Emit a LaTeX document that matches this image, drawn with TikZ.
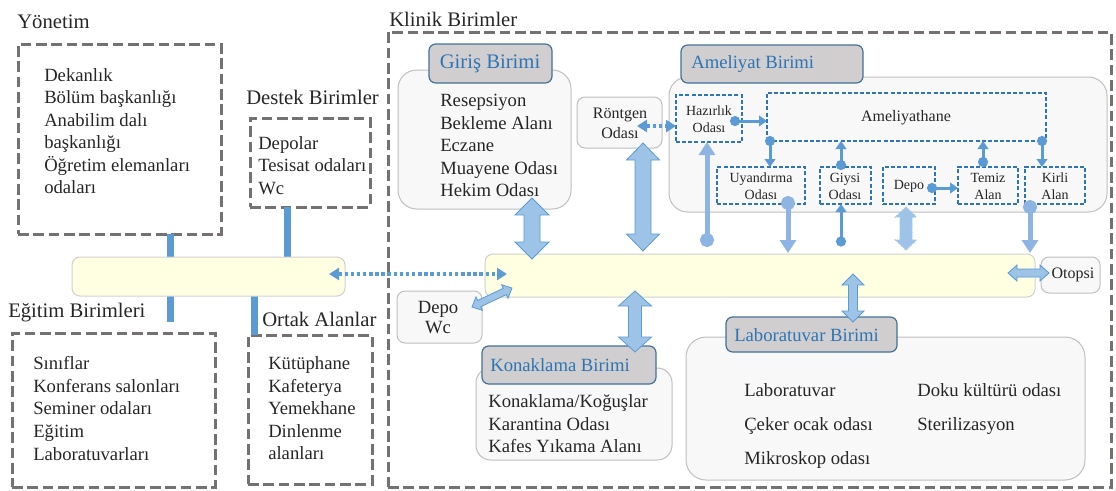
\documentclass[tikz,border=0pt]{standalone}
\usepackage{fontspec}
\setmainfont{Liberation Serif}
\usetikzlibrary{arrows.meta,fit}
\definecolor{dashgray}{HTML}{767171}
\definecolor{barblue}{HTML}{5B9BD5}
\definecolor{fatfill}{HTML}{9DC3E6}
\definecolor{fatline}{HTML}{5B9BD5}
\definecolor{lightarr}{HTML}{8DB4E2}
\definecolor{hdrfill}{HTML}{D0CECE}
\definecolor{hdrline}{HTML}{41719C}
\definecolor{hdrtext}{HTML}{2E75B6}
\definecolor{boxfill}{HTML}{F8F8F8}
\definecolor{boxline}{HTML}{BFBFBF}
\definecolor{corrfill}{HTML}{FFFFE1}
\definecolor{corrline}{HTML}{D0D0D0}
\definecolor{roomline}{HTML}{2E75B6}
\definecolor{txt}{HTML}{262626}
\makeatletter
\newcommand\fatarrow[6][]{%
  \pgfpointanchor{#2}{center}\edef\fa@xa{\the\pgf@x}\edef\fa@ya{\the\pgf@y}%
  \pgfpointanchor{#3}{center}\edef\fa@xb{\the\pgf@x}\edef\fa@yb{\the\pgf@y}%
  \pgfmathsetmacro\fa@ang{atan2(\fa@yb-\fa@ya,\fa@xb-\fa@xa)}%
  \pgfmathsetmacro\fa@len{veclen(\fa@xb-\fa@xa,\fa@yb-\fa@ya)}%
  \pgfmathsetmacro\fa@s{0.75*#4}%
  \pgfmathsetmacro\fa@h{0.75*#5}%
  \pgfmathsetmacro\fa@k{0.75*#6}%
  \pgfmathsetmacro\fa@m{\fa@len-\fa@k}%
  \filldraw[#1,shift={(\fa@xa,\fa@ya)},rotate=\fa@ang]
    (0pt,0pt) -- (\fa@k pt,\fa@h pt) -- (\fa@k pt,\fa@s pt) -- (\fa@m pt,\fa@s pt)
    -- (\fa@m pt,\fa@h pt) -- (\fa@len pt,0pt) -- (\fa@m pt,-\fa@h pt) -- (\fa@m pt,-\fa@s pt)
    -- (\fa@k pt,-\fa@s pt) -- (\fa@k pt,-\fa@h pt) -- cycle;
}
\makeatother
\tikzset{
  dashbox/.style={draw=dashgray, line width=2.25pt, dash pattern=on 8pt off 3.5pt, inner sep=0pt},
  roundbox/.style={draw=boxline, fill=boxfill, rounded corners=#1, line width=0.75pt, inner sep=0pt},
  hdr/.style={draw=hdrline, fill=hdrfill, rounded corners=5pt, line width=0.9pt, inner sep=0pt},
  room/.style={draw=roomline, dash pattern=on 3pt off 1.6pt, line width=1.1pt, inner sep=0pt},
  corr/.style={draw=corrline, fill=corrfill, rounded corners=6pt, line width=0.75pt, inner sep=0pt},
  bar/.style={draw=barblue, line width=5.25pt},
  ttl/.style={font=\fontsize{15.5}{18}\selectfont, text=txt, anchor=west, inner sep=0pt},
  lst/.style={font=\fontsize{14}{16.9}\selectfont, text=txt, anchor=west, align=left, inner sep=0pt},
  sm/.style={font=\fontsize{10.5}{12.75}\selectfont, text=txt, align=center, inner sep=0pt},
  mid/.style={font=\fontsize{12}{14.5}\selectfont, text=txt, align=center, inner sep=0pt},
  hdrtxt/.style={font=\fontsize{14}{16}\selectfont, text=hdrtext, anchor=west, inner sep=0pt},
  fatstyle/.style={fill=fatfill, draw=fatline, line width=0.6pt},
  faintfat/.style={fill=fatfill, draw=fatline!55, line width=0.9pt, dash pattern=on 0.8pt off 0.8pt},
  dotarr/.style={draw=barblue, line width=3pt, dash pattern=on 2.6pt off 2pt,
     {Triangle[length=7.5pt,width=9pt]}-{Triangle[length=7.5pt,width=9pt]}},
  smarr/.style={draw=barblue, line width=2.25pt,
     {Circle[length=7.5pt]}-{Triangle[length=6pt,width=8pt]}},
  bigarr/.style={draw=lightarr, line width=3.75pt,
     {Circle[length=10.5pt]}-{Triangle[length=9.75pt,width=12pt]}},
}
\begin{document}
\begin{tikzpicture}[x=0.75pt,y=-0.75pt]
\useasboundingbox (0,0) rectangle (1116,490);

% ---------- left groups ----------
\node[dashbox, fit={(18,44)(221,234)}] (yon) {};
\node[dashbox, fit={(250,118)(370,207)}] (des) {};
\node[dashbox, fit={(12,333)(215,487)}] (egi) {};
\node[dashbox, fit={(248,335)(372,484)}] (ort) {};
\node[dashbox, fit={(388,32)(1111,487)}] (kli) {};

\node[ttl] (yonT) at (17,22) {Yönetim};
\node[ttl] (desT) at (246,97) {Destek Birimler};
\node[ttl] (egiT) at (8,313) {Eğitim Birimleri};
\node[ttl] (ortT) at (262,319) {Ortak Alanlar};
\node[ttl] (kliT) at (389,19) {Klinik Birimler};

\node[lst] (yonL) at (44,131) {Dekanlık\\Bölüm başkanlığı\\Anabilim dalı\\başkanlığı\\Öğretim elemanları\\odaları};
\node[lst] (desL) at (258,165.5) {Depolar\\Tesisat odaları\\Wc};
\node[lst] (egiL) at (33,408.5) {Sınıflar\\Konferans salonları\\Seminer odaları\\Eğitim\\Laboratuvarları};
\node[lst] (ortL) at (268,408.5) {Kütüphane\\Kafeterya\\Yemekhane\\Dinlenme\\alanları};

% vertical bars
\coordinate (b1a) at (170,234); \coordinate (b1b) at (170,257);
\coordinate (b2a) at (287,207); \coordinate (b2b) at (287,257);
\coordinate (b3a) at (170,296); \coordinate (b3b) at (170,322);
\coordinate (b4a) at (254,296); \coordinate (b4b) at (254,335);
\draw[bar] (b1a) -- (b1b);
\draw[bar] (b2a) -- (b2b);
\draw[bar] (b3a) -- (b3b);
\draw[bar] (b4a) -- (b4b);

% corridors
\node[corr, fit={(72,257)(345,296)}] (corL) {};
\node[corr, fit={(485,254)(1035,297)}] (corR) {};

% ---------- clinic boxes ----------
\node[roundbox=14pt, fit={(398,70)(571,209)}] (gir) {};
\node[roundbox=14pt, fit={(669,77)(1107,212)}] (ame) {};
\node[roundbox=11pt, fit={(476,368)(672,460)}] (kon) {};
\node[roundbox=15pt, fit={(686,337)(1085,480)}] (lab) {};
\node[roundbox=6pt, fit={(577,97)(662,148)}] (ront) {};
\node[roundbox=6pt, fit={(397,291)(482,343)}] (depw) {};
\node[roundbox=6pt, fit={(1041,257)(1100,293)}] (oto) {};

\node[hdr, fit={(429,44)(552,83)}] (girH) {};
\node[hdr, fit={(681,45)(863,83)}] (ameH) {};
\node[hdr, fit={(482,346)(656,384)}] (konH) {};
\node[hdr, fit={(726,317)(897,352)}] (labH) {};

\node[font=\fontsize{15.5}{18}\selectfont, text=hdrtext, inner sep=0pt] (girHT) at (490,64) {Giriş Birimi};
\node[hdrtxt] (ameHT) at (691,64) {Ameliyat Birimi};
\node[hdrtxt] (konHT) at (490,365) {Konaklama Birimi};
\node[hdrtxt] (labHT) at (734,335) {Laboratuvar Birimi};

\node[lst] (girL) at (440,145.5) {Resepsiyon\\Bekleme Alanı\\Eczane\\Muayene Odası\\Hekim Odası};
\node[lst] (konL) at (488,424) {Konaklama/Koğuşlar\\Karantina Odası\\Kafes Yıkama Alanı};
\node[lst, font=\fontsize{14}{25.2}\selectfont] (labL1) at (744,426) {Laboratuvar\\Çeker ocak odası\\Mikroskop odası};
\node[lst, font=\fontsize{14}{25.2}\selectfont] (labL2) at (917,409) {Doku kültürü odası\\Sterilizasyon};

\node[mid] (rontT) at (620,123.5) {Röntgen\\Odası};
\node[font=\fontsize{14}{15}\selectfont, text=txt, align=center, inner sep=0pt] (depwT) at (438,318) {Depo\\Wc};
\node[mid] (otoT) at (1073,275) {Otopsi};

% rooms in Ameliyat
\node[room, fit={(676,95)(742,142)}] (haz) {};
\node[room, fit={(767,93)(1046,141)}] (amh) {};
\node[room, fit={(717,167)(805,204)}] (uya) {};
\node[room, fit={(820,167)(871,204)}] (giy) {};
\node[room, fit={(883,167)(935,204)}] (dep) {};
\node[room, fit={(958,167)(1018,204)}] (tem) {};
\node[room, fit={(1025,167)(1085,204)}] (kir) {};

\node[sm] (hazT) at (709,119.5) {Hazırlık\\Odası};
\node[font=\fontsize{12}{14}\selectfont, text=txt, inner sep=0pt] (amhT) at (906,118) {Ameliyathane};
\node[sm] (uyaT) at (761,186.5) {Uyandırma\\Odası};
\node[sm] (giyT) at (845,186.5) {Giysi\\Odası};
\node[sm] (depT) at (909,186) {Depo};
\node[sm] (temT) at (988,186.5) {Temiz\\Alan};
\node[sm] (kirT) at (1055,186.5) {Kirli\\Alan};

% ---------- connectors ----------
% dotted
\coordinate (d1a) at (329,274); \coordinate (d1b) at (507,274);
\draw[dotarr] (d1a) -- (d1b);
\coordinate (d2a) at (637,126); \coordinate (d2b) at (676,126);
\draw[dotarr, line width=2.6pt] (d2a) -- (d2b);

% small dark dot arrows
\coordinate (s1a) at (730,121); \coordinate (s1b) at (767,121);
\coordinate (s2a) at (770,136); \coordinate (s2b) at (770,167);
\coordinate (s3a) at (841,170); \coordinate (s3b) at (841,141);
\coordinate (s4a) at (983,167); \coordinate (s4b) at (983,141);
\coordinate (s5a) at (1042,136); \coordinate (s5b) at (1042,167);
\coordinate (s6a) at (927,188); \coordinate (s6b) at (958,188);
\coordinate (s7a) at (841,246.5); \coordinate (s7b) at (841,204);
\foreach \p in {1,...,7} {\draw[smarr] (s\p a) -- (s\p b);}

% big light dot arrows
\coordinate (l1a) at (707,247); \coordinate (l1b) at (707,142);
\coordinate (l2a) at (788,196); \coordinate (l2b) at (788,253);
\coordinate (l3a) at (1030,200); \coordinate (l3b) at (1030,253);
\foreach \p in {1,2,3} {\draw[bigarr] (l\p a) -- (l\p b);}

% fat double arrows
\coordinate (f1a) at (532,198); \coordinate (f1b) at (532,259);
\coordinate (f2a) at (643,143); \coordinate (f2b) at (643,251);
\coordinate (f3a) at (635,291); \coordinate (f3b) at (635,352);
\coordinate (f4a) at (853,274); \coordinate (f4b) at (853,322);
\coordinate (f5a) at (906,207); \coordinate (f5b) at (906,250);
\coordinate (f6a) at (1008,273); \coordinate (f6b) at (1049,273);
\coordinate (f7a) at (472,307); \coordinate (f7b) at (512,288);
\fatarrow[fatstyle]{f1a}{f1b}{8}{17}{17}
\fatarrow[fatstyle]{f2a}{f2b}{8}{16.5}{17}
\fatarrow[fatstyle]{f3a}{f3b}{6.5}{16.5}{15}
\fatarrow[fatstyle]{f4a}{f4b}{4.5}{11}{11}
\fatarrow[faintfat]{f5a}{f5b}{6}{10.5}{10}
\fatarrow[fatstyle]{f6a}{f6b}{4}{8}{9}
\fatarrow[fatstyle]{f7a}{f7b}{3.5}{7.5}{8}
\end{tikzpicture}
\end{document}
